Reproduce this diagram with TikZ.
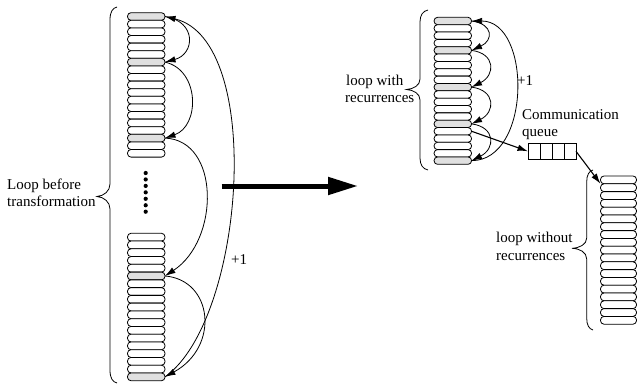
\documentclass[tikz,border=0pt]{standalone}
\usepackage{fontspec}
\setmainfont{Liberation Serif}
\usetikzlibrary{arrows.meta}
\definecolor{rg}{RGB}{224,224,224}
\colorlet{rw}{white}
\begin{document}
\begin{tikzpicture}[x=1pt,y=-1pt,
  rowbox/.style={draw, line width=0.8pt, rounded corners=3.5pt, inner sep=0pt, outer sep=0pt},
  lbl/.style={font=\fontsize{15}{17}\selectfont, inner sep=0pt, anchor=base west},
  arr/.style={line width=0.8pt, -{Latex[length=10.5pt,width=6.5pt]}},
  qarr/.style={line width=1.1pt, -{Latex[length=10.5pt,width=6.5pt]}},
  brc/.style={line width=0.8pt},
  qcell/.style={draw, line width=0.8pt, minimum width=12pt, minimum height=16pt, inner sep=0pt, outer sep=0pt},
  dotn/.style={circle, fill, minimum size=4.2pt, inner sep=0pt}
]
\useasboundingbox (0,0) rectangle (638,388);

% upper-left loop
\foreach \f [count=\i] in {rg,rw,rw,rw,rw,rw,rg,rw,rw,rw,rw,rw,rw,rw,rw,rw,rg,rw,rw}
  \node[rowbox, minimum width=37.5pt, minimum height=7.6pt, fill=\f] (a\i) at (146.25,{16.5+(\i-1)*7.6}) {};
% lower-left loop
\foreach \f [count=\i] in {rw,rw,rw,rw,rw,rg,rw,rw,rw,rw,rw,rw,rw,rw,rw,rw,rw,rw,rg}
  \node[rowbox, minimum width=37.5pt, minimum height=7.76pt, fill=\f] (b\i) at (146.25,{237.18+(\i-1)*7.76}) {};
% loop with recurrences
\foreach \f [count=\i] in {rg,rw,rw,rw,rg,rw,rw,rw,rw,rg,rw,rw,rw,rw,rg,rw,rw,rw,rw,rg}
  \node[rowbox, minimum width=37.5pt, minimum height=7.35pt, fill=\f] (c\i) at (452.8,{21+(\i-1)*7.35}) {};
% loop without recurrences
\foreach \i in {1,...,19}
  \node[rowbox, minimum width=36pt, minimum height=7.8pt, fill=rw] (d\i) at (618.5,{179.9+(\i-1)*7.8}) {};

% dots
\foreach \k in {0,...,6}
  \node[dotn] (dt\k) at (145.7,{173+\k*6.45}) {};

% communication queue
\foreach \k in {1,...,4}
  \node[qcell] (q\k) at ({522+\k*12},151.3) {};

% braces
\draw[brc] (117,7) .. controls (112.5,8) and (110,12) .. (110,20) -- (110,184)
  .. controls (110,191) and (104,196) .. (97,196.5)
  .. controls (104,197) and (110,202) .. (110,209) -- (110,370)
  .. controls (110,378) and (112.5,382) .. (117,383);
\draw[brc] (428,10) .. controls (423,11) and (420,15) .. (420,22) -- (420,79)
  .. controls (420,85.5) and (413.5,89) .. (406.5,89.5)
  .. controls (413.5,90) and (420,93.5) .. (420,100) -- (420,158)
  .. controls (420,165) and (423,169) .. (428,170);
\draw[brc] (593,170) .. controls (589,171) and (586.7,175) .. (586.7,182) -- (586.7,238)
  .. controls (586.7,244.5) and (579.5,248) .. (572,248.3)
  .. controls (579.5,248.6) and (586.7,252) .. (586.7,259) -- (586.7,318)
  .. controls (586.7,325) and (589,329) .. (593,330);

% texts
\node[lbl] (t1) at (7,189) {Loop before};
\node[lbl] (t2) at (7,206.7) {transformation};
\node[lbl] (t3) at (346,85) {loop with};
\node[lbl] (t4) at (345,102) {recurrences};
\node[lbl] (t5) at (522,119.5) {Communication};
\node[lbl] (t6) at (522,136) {queue};
\node[lbl] (t7) at (496,242) {loop without};
\node[lbl] (t8) at (496,260) {recurrences};
\node[lbl] (p1) at (231,264) {+1};
\node[lbl] (p2) at (517,85) {+1};

% left dependence arcs
\draw[arr] (a1.east) .. controls +(32,5) and +(30,-8) .. (a7.east);
\draw[arr] (a7.east) .. controls +(35,8) and +(35,-12) .. (a17.east);
\draw[arr] (a17.east) .. controls +(55,2) and +(55,-36) .. (b6.east);
\draw[arr] (b6.east) .. controls +(48,4) and +(55,-30) .. (b19.east);
\draw[arr] (b19.east) .. controls +(80,-57) and +(100,24) .. (a1.east);

% right dependence arcs
\draw[arr] (c1.east) .. controls +(22,3) and +(22,-10) .. (c5.east);
\draw[arr] (c5.east) .. controls +(24,3) and +(24,-12) .. (c10.east);
\draw[arr] (c10.east) .. controls +(24,3) and +(24,-12) .. (c15.east);
\draw[arr] (c15.east) .. controls +(24,3) and +(24,-12) .. (c20.east);
\draw[arr] (c20.east) .. controls +(60,0) and +(60,0) .. (c1.east);
\draw[qarr] (c16.east) -- (q1.west);
\draw[qarr] (q4.east) -- (d1.south west);

% big transformation arrow
\coordinate (bs) at (221.7,186);
\coordinate (be) at (358,186);
\draw[line width=5pt, -{Triangle[length=30pt,width=17pt]}] (bs) -- (be);
\end{tikzpicture}
\end{document}
